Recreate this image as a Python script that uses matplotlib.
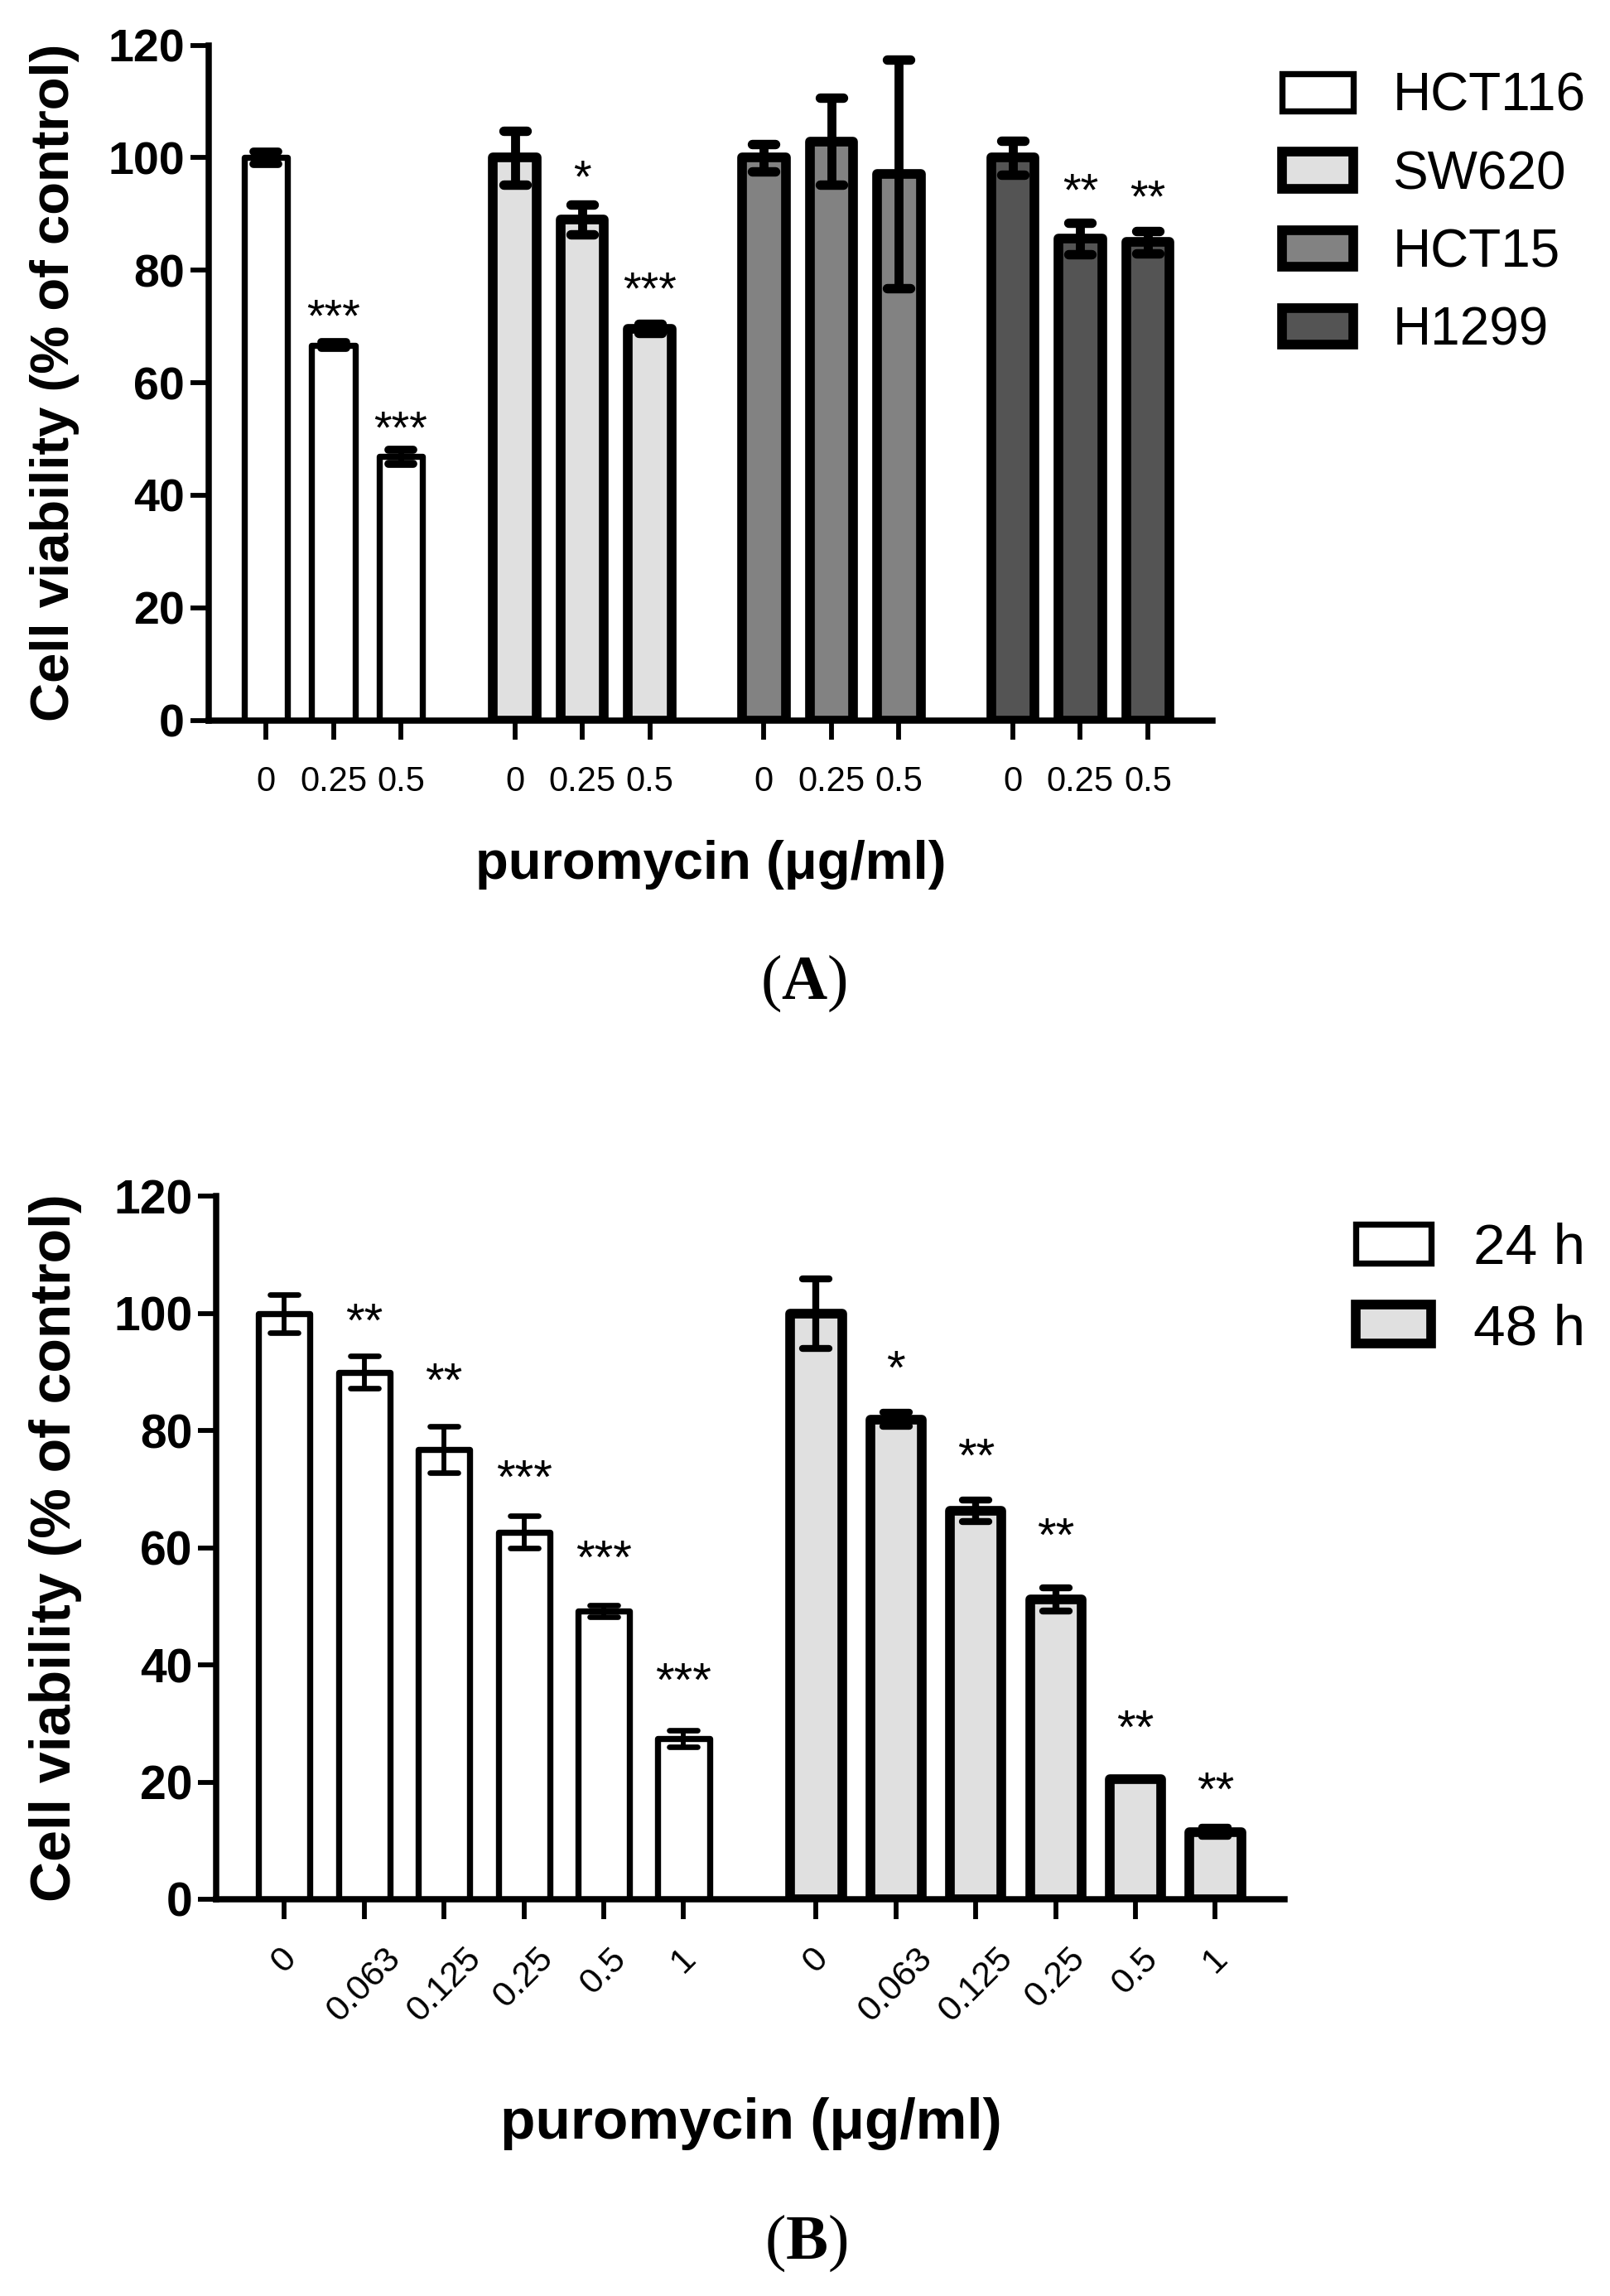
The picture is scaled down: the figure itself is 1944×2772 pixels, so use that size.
import matplotlib
matplotlib.use('Agg')
import matplotlib.pyplot as plt
from matplotlib.markers import MarkerStyle
import numpy as np

plt.rcParams['font.family'] = ['Liberation Sans', 'DejaVu Sans']
plt.rcParams['mathtext.fontset'] = 'custom'
plt.rcParams['mathtext.rm'] = 'Liberation Serif'
plt.rcParams['mathtext.bf'] = 'Liberation Serif:bold'

# ---------------- data: panel A ----------------
doses_A = ['0', '0.25', '0.5']
cell_lines = ['HCT116', 'SW620', 'HCT15', 'H1299']
hct116_mean = [100.0, 66.7, 46.9]
hct116_err = [1.15, 0.55, 1.25]
sw620_mean = [100.0, 89.0, 69.6]
sw620_err = [4.8, 2.6, 0.8]
hct15_mean = [100.0, 102.9, 97.1]
hct15_err = [2.4, 7.7, 20.3]
h1299_mean = [100.0, 85.7, 85.0]
h1299_err = [3.0, 2.8, 2.0]
stars_A = [['', '***', '***'], ['', '*', '***'], ['', '', ''], ['', '**', '**']]
star_y_A = [[0, 74.0, 54.1], [0, 98.8, 78.9], [0, 0, 0], [0, 96.4, 95.2]]
colors_A = ['#ffffff', '#e0e0e0', '#828282', '#545454']

# ---------------- data: panel B ----------------
doses_B = ['0', '0.063', '0.125', '0.25', '0.5', '1']
times = ['24 h', '48 h']
mean_24h = [100.0, 90.0, 76.8, 62.7, 49.2, 27.4]
err_24h = [3.2, 2.8, 4.0, 2.8, 1.0, 1.4]
mean_48h = [100.0, 81.9, 66.3, 51.2, 20.5, 11.5]
err_48h = [5.9, 1.2, 1.8, 2.0, 0.0, 0.8]
stars_B = [['', '**', '**', '***', '***', '***'], ['', '*', '**', '**', '**', '**']]
star_y_B = [[0, 100.9, 90.7, 74.2, 60.5, 39.5], [0, 92.8, 77.9, 64.2, 31.4, 20.8]]
colors_B = ['#ffffff', '#e0e0e0']

means_A = [hct116_mean, sw620_mean, hct15_mean, h1299_mean]
errs_A = [hct116_err, sw620_err, hct15_err, h1299_err]
means_B = [mean_24h, mean_48h]
errs_B = [err_24h, err_48h]

fig = plt.figure(figsize=(19.44, 27.72), dpi=100)


def style_axes(ax, spine_lw, ytick_fs):
    for s in ['top', 'right']:
        ax.spines[s].set_visible(False)
    for s in ['left', 'bottom']:
        ax.spines[s].set_linewidth(spine_lw)
        ax.spines[s].set_capstyle('projecting')
    ax.set_ylim(0, 120)
    ax.set_yticks(np.arange(0, 121, 20))
    ax.tick_params(axis='y', direction='out', length=16, width=4.2, pad=5,
                   labelsize=ytick_fs)
    for lab in ax.get_yticklabels():
        lab.set_fontweight('bold')


def draw_group(ax, xs, vals, errs, color, lw, elw, cth, cs, stars, star_y,
               star_fs):
    cont = ax.bar(xs, vals, width=0.645, color=color, edgecolor='black',
                  linewidth=lw, joinstyle='round', zorder=2)
    eb = ax.errorbar(xs, vals, yerr=errs, fmt='none', ecolor='black',
                     elinewidth=elw, capsize=cs, capthick=cth, zorder=3)
    for cap in eb[1]:
        cap.set_marker(MarkerStyle('_', capstyle='round'))
    for x, s, y in zip(xs, stars, star_y):
        if s:
            ax.annotate(s, xy=(x, y), xytext=(0, -0.585 * star_fs),
                        textcoords='offset points', ha='center',
                        va='baseline', fontsize=star_fs)
    return cont


# ---------------- panel A ----------------
axA = fig.add_axes([0.1296, 0.6863, 0.7531 - 0.1296, 0.9803 - 0.6863])
style_axes(axA, 5.4, 40)
stepA = 3.69
handlesA = []
ticksA, ticklabsA = [], []
for g, name in enumerate(cell_lines):
    xs = g * stepA + np.arange(len(doses_A))
    if g == 0:
        lw, elw, cth, cs = 5.3, 5.0, 7.0, 11.0
    else:
        lw, elw, cth, cs = 8.4, 7.8, 8.2, 10.0
    c = draw_group(axA, xs, means_A[g], errs_A[g], colors_A[g], lw, elw, cth,
                   cs, stars_A[g], star_y_A[g], 40)
    handlesA.append(c)
    ticksA.extend(xs)
    ticklabsA.extend(doses_A)
axA.set_xlim(-0.85, 3 * stepA + 2 + 0.96)
axA.set_xticks(ticksA)
axA.set_xticklabels(ticklabsA, fontsize=30)
axA.tick_params(axis='x', direction='out', length=16.5, width=4.2, pad=23)
axA.set_xlabel('puromycin (μg/ml)', fontsize=47, fontweight='bold')
axA.xaxis.set_label_coords(0.5, -0.177)
axA.set_ylabel('Cell viability (% of control)', fontsize=47, fontweight='bold')
axA.yaxis.set_label_coords(-0.1287, 0.5)
axA.legend(handlesA, cell_lines, loc='upper left',
           bbox_to_anchor=(0.7963, 0.9687), bbox_transform=fig.transFigure,
           frameon=False, fontsize=46, handlelength=1.34, handleheight=0.70,
           handletextpad=0.75, labelspacing=0.536, borderpad=0, borderaxespad=0)
fig.text(0.499, 0.5718, r'($\mathbf{A}$)', fontsize=55, ha='center',
         va='center', family='Liberation Serif')

# ---------------- panel B ----------------
axB = fig.add_axes([0.1345, 0.1728, 0.798 - 0.1345, 0.4789 - 0.1728])
style_axes(axB, 5.4, 41)
stepB = 6.66
handlesB = []
ticksB, ticklabsB = [], []
for g, name in enumerate(times):
    xs = g * stepB + np.arange(len(doses_B))
    if g == 0:
        lw, elw, cth, cs = 5.3, 4.2, 4.8, 12.5
    else:
        lw, elw, cth, cs = 8.4, 6.0, 6.0, 11.5
    c = draw_group(axB, xs, means_B[g], errs_B[g], colors_B[g], lw, elw, cth,
                   cs, stars_B[g], star_y_B[g], 42)
    handlesB.append(c)
    ticksB.extend(xs)
    ticklabsB.extend(doses_B)
axB.set_xlim(-0.85, stepB + 5 + 0.87)
axB.set_xticks(ticksB)
axB.set_xticklabels(ticklabsB, fontsize=31, rotation=45, ha='center')
axB.tick_params(axis='x', direction='out', length=17, width=4.2, pad=20)
axB.set_xlabel('puromycin (μg/ml)', fontsize=50, fontweight='bold')
axB.xaxis.set_label_coords(0.5, -0.2817)
axB.set_ylabel('Cell viability (% of control)', fontsize=49, fontweight='bold')
axB.yaxis.set_label_coords(-0.126, 0.5)
axB.legend(handlesB, times, loc='upper left',
           bbox_to_anchor=(0.8423, 0.4677), bbox_transform=fig.transFigure,
           frameon=False, fontsize=50, handlelength=1.31, handleheight=0.66,
           handletextpad=0.735, labelspacing=0.483, borderpad=0, borderaxespad=0)
fig.text(0.5005, 0.0231, r'($\mathbf{B}$)', fontsize=55, ha='center',
         va='center', family='Liberation Serif')

fig.savefig('out.png', dpi=100, facecolor='white')
